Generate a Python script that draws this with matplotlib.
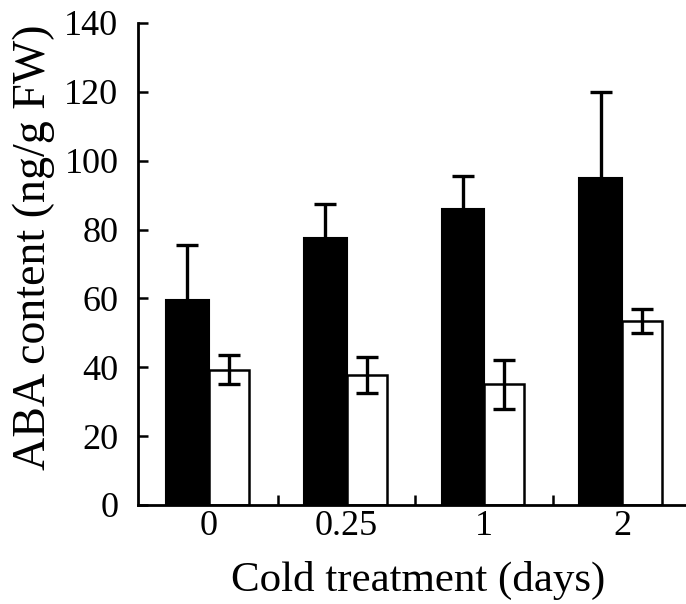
import numpy as np
import matplotlib
matplotlib.use("Agg")
import matplotlib.pyplot as plt

# data
days = ["0", "0.25", "1", "2"]
aba_black = [59.5, 77.5, 86.0, 95.0]
err_black = [16.0, 10.0, 9.5, 25.0]
aba_white = [39.3, 37.8, 35.0, 53.5]
err_white = [4.3, 5.3, 7.0, 3.5]

plt.rcParams['font.family'] = ['Liberation Serif', 'DejaVu Serif']
plt.rcParams['font.size'] = 26

fig = plt.figure(figsize=(6.86, 6.04), dpi=100)
ax = fig.add_axes([0.201, 0.164, 0.799, 0.798])

x = np.arange(len(days))
ax.bar(x, aba_black, width=-0.31, align='edge', color='black', edgecolor='black', linewidth=1.5, zorder=3)
ax.bar(x, aba_white, width=0.29, align='edge', color='white', edgecolor='black', linewidth=1.8, zorder=3)

# error bars (black: upper only, white: both)
eb = ax.errorbar(x - 0.155, aba_black, yerr=[np.zeros(4), err_black], fmt='none',
                 ecolor='black', elinewidth=2.4, capsize=8, capthick=2.4, zorder=2)
eb[1][0].set_visible(False)
ax.errorbar(x + 0.145, aba_white, yerr=err_white, fmt='none',
            ecolor='black', elinewidth=2.4, capsize=8, capthick=2.4, zorder=4)

ax.set_xlim(-0.515, 3.464)
ax.set_ylim(0, 140)
ax.set_yticks(np.arange(0, 141, 20))
ax.set_xticks(x)
ax.set_xticklabels(days)
ax.set_xticks([0.5, 1.5, 2.5], minor=True)
ax.tick_params(axis='x', which='major', length=0, pad=4)
ax.tick_params(axis='x', which='minor', direction='in', length=7, width=1.8)
ax.tick_params(axis='y', direction='in', length=7, width=1.8, pad=14)

for s in ['top', 'right']:
    ax.spines[s].set_visible(False)
for s in ['left', 'bottom']:
    ax.spines[s].set_linewidth(2)
    ax.spines[s].set_zorder(5)

ax.set_ylabel('ABA content (ng/g FW)', fontsize=33, va='center')
ax.yaxis.set_label_coords(-0.19, 0.535)
ax.set_xlabel('Cold treatment (days)', fontsize=31, va='center')
ax.xaxis.set_label_coords(0.511, -0.156)

fig.savefig('out.png', dpi=100)
